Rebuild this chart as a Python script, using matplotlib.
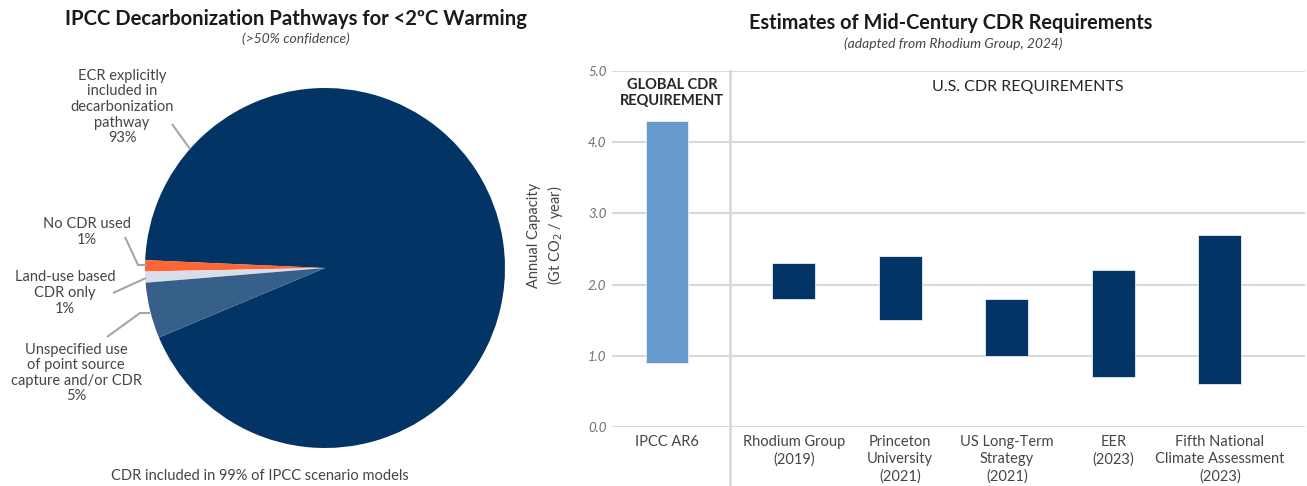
import numpy as np
import matplotlib.pyplot as plt

plt.rcParams['font.family'] = ['Lato', 'DejaVu Sans']

# Pie: IPCC pathways
pie_labels = ['ECR explicitly\nincluded in\ndecarbonization\npathway\n93%',
              'No CDR used\n1%',
              'Land-use based\nCDR only\n1%',
              'Unspecified use\nof point source\ncapture and/or CDR\n5%']
pie_shares = [93, 1, 1, 5]
pie_colors = ['#033466', '#FF6633', '#D7DEE7', '#365F8A']

# Bars: mid-century CDR estimates (Gt CO2 / year)
studies = ['IPCC AR6', 'Rhodium Group\n(2019)', 'Princeton\nUniversity\n(2021)',
           'US Long-Term\nStrategy\n(2021)', 'EER\n(2023)',
           'Fifth National\nClimate Assessment\n(2023)']
cdr_low = [0.9, 1.8, 1.5, 1.0, 0.7, 0.6]
cdr_high = [4.3, 2.3, 2.4, 1.8, 2.2, 2.7]
is_global = [True, False, False, False, False, False]

W, H = 1307, 486
fig = plt.figure(figsize=(W / 100, H / 100), dpi=100)
txt = '#454545'

# ---- pie ----
r_px = 180
cx, cy = 325, 268
axp = fig.add_axes([(cx - r_px) / W, (H - cy - r_px) / H, 2 * r_px / W, 2 * r_px / H])
wedges, _ = axp.pie(pie_shares, colors=pie_colors, startangle=202.7,
                    counterclock=True, radius=1,
                    wedgeprops=dict(linewidth=0))
axp.set_xlim(-1, 1)
axp.set_ylim(-1, 1)
axp.set_aspect('equal')
axp.axis('off')

def px(x, y):
    # pixel position -> pie data units
    return ((x - cx) / r_px, (cy - y) / r_px)

lead = '#A6A6A6'
label_pos = [(122, 107), (87, 232), (65, 293), (76, 373)]
leader_paths = [[(172, 124), (190, 149)],
                [(125, 237), (138, 265), (147, 265)],
                [(113, 293), (146, 278)],
                [(107, 337), (140, 313), (150, 313)]]
for lab, (tx, ty), path in zip(pie_labels, label_pos, leader_paths):
    x, y = px(tx, ty)
    axp.text(x, y, lab, ha='center', va='center', fontsize=10.5, color=txt,
             linespacing=1.15, clip_on=False)
    pts = np.array([px(a, b) for a, b in path])
    axp.plot(pts[:, 0], pts[:, 1], color=lead, lw=1.5, clip_on=False,
             solid_capstyle='butt')

fig.text(296 / W, 1 - 19 / H, 'IPCC Decarbonization Pathways for <2ºC Warming',
         ha='center', va='center', fontsize=14.6, fontweight='bold', color='#1A1A1A')
fig.text(296 / W, 1 - 39 / H, '(>50% confidence)', ha='center', va='center',
         fontsize=10, style='italic', color=txt)
fig.text(260 / W, 1 - 476 / H, 'CDR included in 99% of IPCC scenario models',
         ha='center', va='center', fontsize=10.5, color=txt)

# ---- floating bars ----
x0, x1, y0, y1 = 612, 1305, 427, 71
axb = fig.add_axes([x0 / W, (H - y0) / H, (x1 - x0) / W, (y0 - y1) / H])
gap = 1.19
xpos = np.array([0.0] + [gap + i for i in range(len(studies) - 1)])
lo = np.array(cdr_low)
hi = np.array(cdr_high)
colors = ['#6699CC' if g else '#033466' for g in is_global]
axb.bar(xpos, hi - lo, bottom=lo, width=0.40, color=colors,
        edgecolor='#E8EEF5', linewidth=0.6, zorder=3)

axb.set_xlim(-0.516, 5.99)
axb.set_ylim(0, 5)
axb.set_yticks(np.arange(0, 5.1, 1.0))
axb.set_yticklabels([f'{v:.1f}' for v in np.arange(0, 5.1, 1.0)],
                    fontsize=9.5, style='italic', color='#6F6F6F')
axb.set_xticks(xpos)
axb.set_xticklabels(studies, fontsize=10.5, color=txt, linespacing=1.25)
axb.tick_params(length=0, axis='both')
axb.tick_params(axis='x', pad=6)
axb.tick_params(axis='y', pad=4)
axb.grid(axis='y', color='#D9D9D9', lw=1.5, zorder=0)
for s in axb.spines.values():
    s.set_visible(False)

sep = gap / 2
axb.plot([sep, sep], [1, -(H - y0) / (y0 - y1)], color='#D9D9D9', lw=2,
         transform=axb.get_xaxis_transform(), clip_on=False, zorder=1)

axb.text(0.05, 4.69, 'GLOBAL CDR\nREQUIREMENT', ha='center', va='center',
         fontsize=10.5, fontweight='bold', color='#262626', linespacing=1.15)
axb.text((1028 - 667) / 106.5, 4.775, 'U.S. CDR REQUIREMENTS', ha='center',
         va='center', fontsize=11.5, color='#262626')

fig.text(546 / W, 1 - 235 / H, 'Annual Capacity\n(Gt CO$_2$ / year)', rotation=90,
         ha='center', va='center', fontsize=10.5, color=txt, linespacing=1.25)
fig.text(951 / W, 1 - 23 / H, 'Estimates of Mid-Century CDR Requirements',
         ha='center', va='center', fontsize=14.3, fontweight='bold', color='#1A1A1A')
fig.text(953 / W, 1 - 44 / H, '(adapted from Rhodium Group, 2024)', ha='center',
         va='center', fontsize=10, style='italic', color=txt)

fig.savefig('out.png', dpi=100)
